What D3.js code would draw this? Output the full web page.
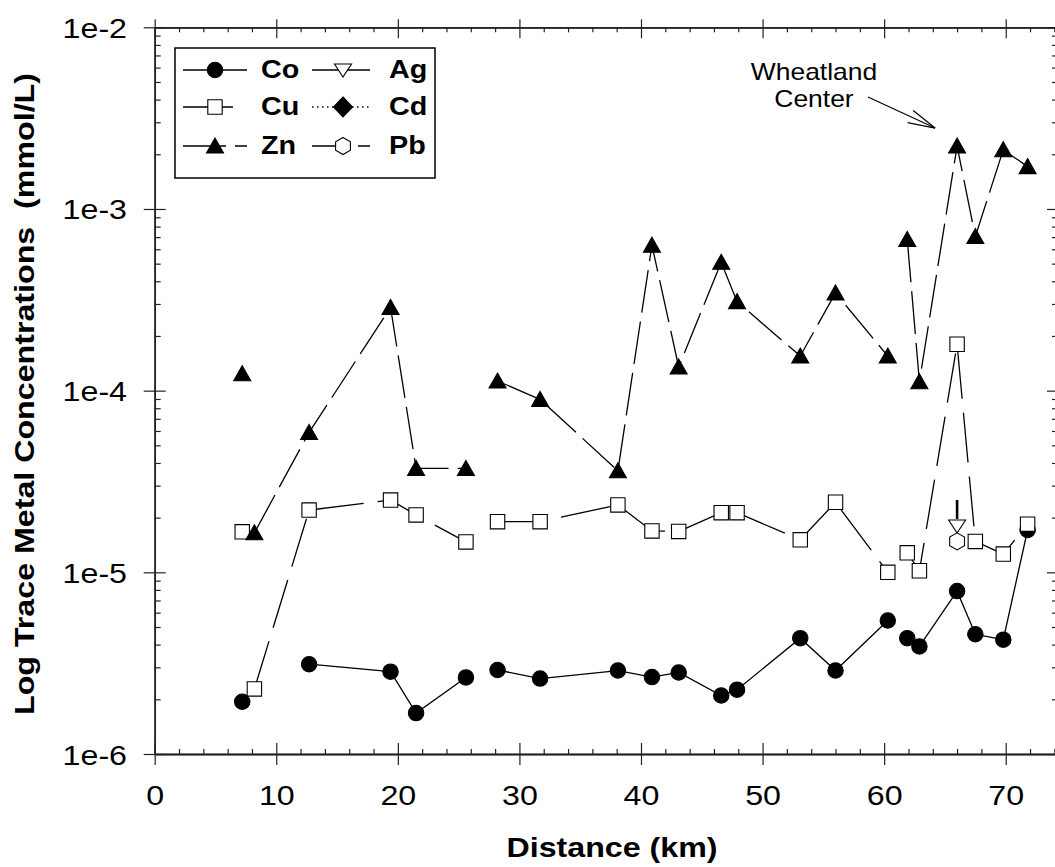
<!DOCTYPE html>
<html>
<head>
<meta charset="utf-8">
<script src="https://cdn.jsdelivr.net/npm/d3@7.9.0/dist/d3.min.js"></script>
<style>
  body { margin: 0; background: #fff; }
  svg { display: block; font-family: "Liberation Sans", Arial, Helvetica, sans-serif; }
</style>
</head>
<body>
<svg id="chart" width="1055" height="867"></svg>
<script>
// sampling stations along the river (km) and which transect each belongs to
const distances = [7.2, 8.2, 12.7, 19.4, 21.5, 25.6, 28.2, 31.7, 38.1, 40.9, 43.1, 46.6, 47.9, 53.1, 56.0, 60.3, 61.9, 62.9, 66.0, 67.5, 69.8, 71.8];
const transect  = [1, 2, 2, 2, 2, 2, 3, 3, 3, 3, 3, 3, 3, 3, 3, 3, 4, 4, 4, 4, 4, 4];

// concentrations (mmol/L), null = not measured
const co = [1.94e-6, null, 3.12e-6, 2.84e-6, 1.68e-6, 2.64e-6, 2.90e-6, 2.6e-6, 2.88e-6, 2.65e-6, 2.81e-6, 2.1e-6, 2.26e-6, 4.34e-6, 2.88e-6, 5.43e-6, 4.34e-6, 3.91e-6, 7.88e-6, 4.56e-6, 4.26e-6, 1.71e-5];
const cu = [1.67e-5, 2.28e-6, 2.2e-5, 2.5e-5, 2.07e-5, 1.47e-5, 1.9e-5, 1.9e-5, 2.35e-5, 1.69e-5, 1.68e-5, 2.13e-5, 2.13e-5, 1.51e-5, 2.43e-5, 1.0e-5, 1.28e-5, 1.02e-5, 1.8e-4, 1.48e-5, 1.26e-5, 1.84e-5];
const zn = [1.24e-4, 1.65e-5, 5.89e-5, 2.87e-4, 3.73e-5, 3.73e-5, 1.13e-4, 8.95e-5, 3.62e-5, 6.32e-4, 1.35e-4, 5.09e-4, 3.09e-4, 1.55e-4, 3.45e-4, 1.55e-4, 6.8e-4, 1.12e-4, 2.22e-3, 7.05e-4, 2.12e-3, 1.71e-3];
const ag = [null, null, null, null, null, null, null, null, null, null, null, null, null, null, null, null, null, null, 1.8e-5, null, null, null];
const cd = [null, null, null, null, null, null, null, null, null, null, null, null, null, null, null, null, null, null, null, null, null, null];
const pb = [null, null, null, null, null, null, null, null, null, null, null, null, null, null, null, null, null, null, 1.48e-5, null, null, null];

const xTicks = [0, 10, 20, 30, 40, 50, 60, 70];
const yTicks = [1e-6, 1e-5, 1e-4, 1e-3, 1e-2];
const yTickLabels = ["1e-6", "1e-5", "1e-4", "1e-3", "1e-2"];

const annotation = { lines: ["Wheatland", "Center"], km: 66.0, value: 2.22e-3 };

const STRETCH = 1.15; // the original type is a little wider than Arial

const svg = d3.select("#chart");

const x = d3.scaleLinear().domain([0, 74.3]).range([154.7, 1058]);
const y = d3.scaleLog().domain([1e-6, 1e-2]).range([754, 27.3]);

// marker shapes, centred on 0,0
const shapes = {
  circle: d3.symbol(d3.symbolCircle, Math.PI * 7.7 * 7.7)(),
  square: "M-7.2,-7.2H7.2V7.2H-7.2Z",
  triUp: "M0,-8L8.5,7L-8.5,7Z",
  triDown: "M-8.5,-6L8.5,-6L0,7Z",
  diamond: "M0,-10L9.5,0L0,10L-9.5,0Z",
  hexagon: "M0,-8.5L7.4,-4.25L7.4,4.25L0,8.5L-7.4,4.25L-7.4,-4.25Z",
};

const series = [
  { name: "Co", values: co, shape: "circle", fill: "#000", dash: null },
  { name: "Cu", values: cu, shape: "square", fill: "#fff", dash: "50,14" },
  { name: "Zn", values: zn, shape: "triUp", fill: "#000", dash: "43,9" },
  { name: "Ag", values: ag, shape: "triDown", fill: "#fff", dash: null, belowLimit: true },
  { name: "Cd", values: cd, shape: "diamond", fill: "#000", dash: "1.5,3.5" },
  { name: "Pb", values: pb, shape: "hexagon", fill: "#fff", dash: "38,8" },
];

// ---------- axes ----------
function styleAxis(g) {
  g.selectAll(".domain").attr("stroke", "#222").attr("stroke-width", 1.3);
  g.selectAll(".tick line").attr("stroke", "#222").attr("stroke-width", 1.2);
}

const xMinor = d3.range(0, 74.3, 2).filter((v) => v % 10 !== 0);
const yMinor = [];
for (let e = -6; e < -2; e++) {
  for (let m = 2; m <= 9; m++) yMinor.push(m * Math.pow(10, e));
}

const axisB = svg.append("g").attr("transform", `translate(0,${y.range()[0]})`);
axisB.call(d3.axisBottom(x).tickValues(xTicks).tickSize(11).tickSizeOuter(0));
axisB.append("g").call(d3.axisBottom(x).tickValues(xTicks).tickSize(-11).tickSizeOuter(0).tickFormat(""));
axisB.append("g").call(d3.axisBottom(x).tickValues(xMinor).tickSize(-5).tickSizeOuter(0).tickFormat(""));
axisB.selectAll("text")
  .attr("y", 51)
  .attr("dy", 0)
  .attr("transform", `scale(${STRETCH},1)`)
  .attr("font-size", 28)
  .attr("font-family", null)
  .attr("fill", "#000");
axisB.attr("font-family", null).attr("font-size", null);
styleAxis(axisB);

const axisT = svg.append("g").attr("transform", `translate(0,${y.range()[1]})`);
axisT.call(d3.axisTop(x).tickValues(xTicks).tickSize(-11).tickSizeOuter(0).tickFormat(""));
axisT.append("g").call(d3.axisTop(x).tickValues(xTicks).tickSize(8).tickSizeOuter(0).tickFormat(""));
axisT.append("g").call(d3.axisTop(x).tickValues(xMinor).tickSize(-5).tickSizeOuter(0).tickFormat(""));
styleAxis(axisT);

const axisL = svg.append("g").attr("transform", `translate(${x.range()[0]},0)`);
axisL.call(d3.axisLeft(y).tickValues(yTicks).tickSize(11).tickSizeOuter(0)
  .tickFormat((d, i) => yTickLabels[i]));
axisL.append("g").call(d3.axisLeft(y).tickValues(yTicks).tickSize(-11).tickSizeOuter(0).tickFormat(""));
axisL.append("g").call(d3.axisLeft(y).tickValues(yMinor).tickSize(-6).tickSizeOuter(0).tickFormat(""));
axisL.selectAll("text")
  .attr("x", -27.7 / STRETCH)
  .attr("dy", "0.357em")
  .attr("transform", `scale(${STRETCH},1)`)
  .attr("font-size", 28)
  .attr("fill", "#000");
axisL.attr("font-family", null).attr("font-size", null);
styleAxis(axisL);

const axisR = svg.append("g").attr("transform", `translate(${x.range()[1]},0)`);
axisR.call(d3.axisRight(y).tickValues(yTicks).tickSize(-11).tickSizeOuter(0).tickFormat(""));
axisR.append("g").call(d3.axisRight(y).tickValues(yMinor).tickSize(-6).tickSizeOuter(0).tickFormat(""));
styleAxis(axisR);

// axis titles
svg.append("text")
  .attr("transform", `translate(612,857) scale(${STRETCH},1)`)
  .attr("text-anchor", "middle")
  .attr("font-size", 28)
  .attr("font-weight", "bold")
  .text("Distance (km)");

svg.append("text")
  .attr("transform", `translate(34,394) rotate(-90) scale(${STRETCH},1)`)
  .attr("text-anchor", "middle")
  .attr("font-size", 28)
  .attr("font-weight", "bold")
  .style("white-space", "pre")
  .text("Log Trace Metal Concentrations  (mmol/L)");

// ---------- lines ----------
const line = d3.line()
  .defined((p) => p.v != null)
  .x((p) => x(p.d))
  .y((p) => y(p.v));

const lineLayer = svg.append("g").attr("fill", "none").attr("stroke", "#000").attr("stroke-width", 1.3);

series.forEach((s) => {
  const pts = distances.map((d, i) => ({ d, v: s.values[i], t: transect[i] }));
  d3.groups(pts, (p) => p.t).forEach(([, grp]) => {
    if (grp.filter((p) => p.v != null).length < 2) return;
    lineLayer.append("path")
      .attr("d", line(grp))
      .attr("stroke-dasharray", s.dash);
  });
});

// ---------- markers ----------
const markLayer = svg.append("g");
series.forEach((s) => {
  const pts = distances
    .map((d, i) => ({ d, v: s.values[i] }))
    .filter((p) => p.v != null);

  if (s.belowLimit) {
    markLayer.selectAll(null)
      .data(pts)
      .enter()
      .append("line")
      .attr("x1", (p) => x(p.d))
      .attr("x2", (p) => x(p.d))
      .attr("y1", (p) => y(p.v) - 7)
      .attr("y2", (p) => y(p.v) - 26)
      .attr("stroke", "#000")
      .attr("stroke-width", 2.6);
  }

  markLayer.selectAll(null)
    .data(pts)
    .enter()
    .append("path")
    .attr("d", shapes[s.shape])
    .attr("transform", (p) => `translate(${x(p.d)},${y(p.v)})`)
    .attr("fill", s.fill)
    .attr("stroke", "#000")
    .attr("stroke-width", 1.1);
});

// ---------- annotation ----------
const tip = [x(annotation.km) - 22, y(annotation.value) - 18];
const tail = [868, 97];
const ann = svg.append("g");
annotation.lines.forEach((t, i) => {
  ann.append("text")
    .attr("transform", `translate(814,${80 + i * 27}) scale(${STRETCH},1)`)
    .attr("text-anchor", "middle")
    .attr("font-size", 23)
    .text(t);
});
ann.append("line")
  .attr("x1", tail[0]).attr("y1", tail[1])
  .attr("x2", tip[0]).attr("y2", tip[1])
  .attr("stroke", "#000").attr("stroke-width", 1.2);
const ang = Math.atan2(tail[1] - tip[1], tail[0] - tip[0]);
[-0.24, 0.24].forEach((da) => {
  ann.append("line")
    .attr("x1", tip[0]).attr("y1", tip[1])
    .attr("x2", tip[0] + 28 * Math.cos(ang + da))
    .attr("y2", tip[1] + 28 * Math.sin(ang + da))
    .attr("stroke", "#000").attr("stroke-width", 1.2);
});

// ---------- legend ----------
const legend = svg.append("g");
legend.append("rect")
  .attr("x", 175).attr("y", 48)
  .attr("width", 260).attr("height", 130)
  .attr("fill", "#fff")
  .attr("stroke", "#000")
  .attr("stroke-width", 1.5);

const rows = [70, 107, 146];
const cols = [
  { x0: 183, x1: 247, mx: 215, tx: 261 },
  { x0: 312, x1: 370, mx: 343, tx: 389 },
];

series.forEach((s, i) => {
  const c = cols[Math.floor(i / 3)];
  const ry = rows[i % 3];
  const g = legend.append("g");
  g.append("line")
    .attr("x1", c.x0).attr("x2", c.x1)
    .attr("y1", ry).attr("y2", ry)
    .attr("stroke", "#000")
    .attr("stroke-width", 1.3)
    .attr("stroke-dasharray", s.dash);
  g.append("path")
    .attr("d", shapes[s.shape])
    .attr("transform", `translate(${c.mx},${ry})`)
    .attr("fill", s.fill)
    .attr("stroke", "#000")
    .attr("stroke-width", 1.1);
  g.append("text")
    .attr("transform", `translate(${c.tx},${ry}) scale(${STRETCH},1)`)
    .attr("dy", "0.33em")
    .attr("font-size", 25)
    .attr("font-weight", "bold")
    .text(s.name);
});
</script>
</body>
</html>
